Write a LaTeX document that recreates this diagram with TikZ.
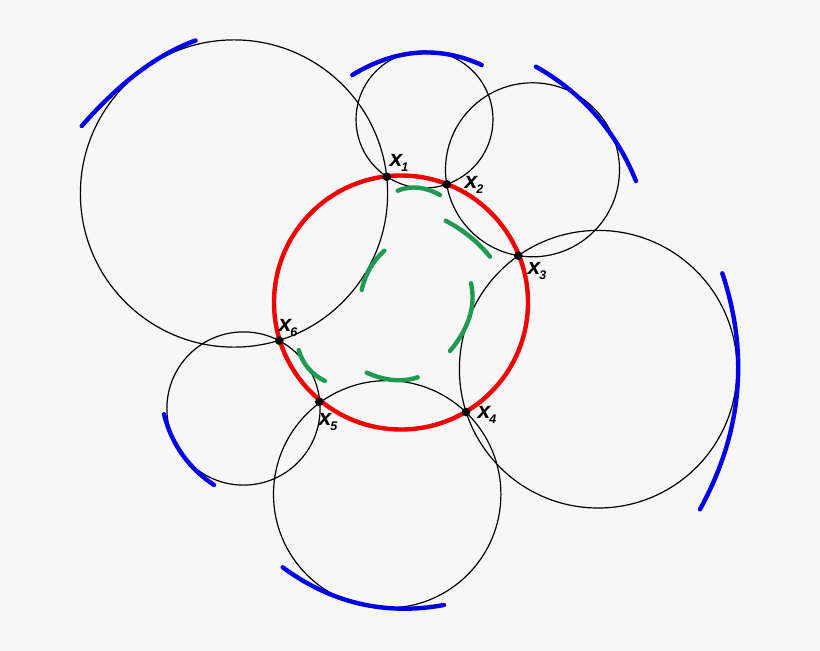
\documentclass[tikz,border=0pt]{standalone}
\usepackage{fontspec}
\setsansfont{Liberation Sans}
\usetikzlibrary{calc}
\definecolor{bgc}{RGB}{247,247,247}
\definecolor{redc}{RGB}{242,0,0}
\definecolor{bluec}{RGB}{0,0,235}
\definecolor{greenc}{RGB}{30,155,80}
\newcommand{\xlab}[1]{{\sffamily\bfseries\itshape\fontsize{23}{23}\selectfont x\kern-1pt\raisebox{-4.5pt}{\fontsize{12.5}{12.5}\selectfont #1}}}
\begin{document}
\begin{tikzpicture}[x=1pt,y=-1pt,
  blk/.style={draw=black,line width=1.2pt},
  redarc/.style={draw=redc,line width=4.4pt},
  bluearc/.style={draw=bluec,line width=4.4pt,line cap=round},
  greenarc/.style={draw=greenc,line width=4.4pt,line cap=round},
  dot/.style={circle,fill=black,inner sep=0pt,minimum size=8.6pt},
  lbl/.style={inner sep=0pt,text=black}]
\useasboundingbox (0,0) rectangle (820,651);
\fill[bgc] (0,0) rectangle (820,651);
% centres
\coordinate (c1) at (234,193.5);
\coordinate (c2) at (424.5,119.5);
\coordinate (c3) at (532.5,169.8);
\coordinate (c4) at (598.2,369.2);
\coordinate (c5) at (387.2,494.3);
\coordinate (c6) at (243.5,408.5);
\coordinate (cr) at (401,302.5);
% points
\coordinate (p1) at (386.7,176.7);
\coordinate (p2) at (446.7,184.3);
\coordinate (p3) at (518.3,255.7);
\coordinate (p4) at (466,412);
\coordinate (p5) at (319.3,401.7);
\coordinate (p6) at (279.3,340.7);
% black circles
\draw[blk] let \p1=($(p1)-(c1)$), \n1={veclen(\x1,\y1)} in (c1) circle[radius=\n1];
\draw[blk] let \p1=($(p1)-(c2)$), \n1={veclen(\x1,\y1)} in (c2) circle[radius=\n1];
\draw[blk] let \p1=($(p2)-(c3)$), \n1={veclen(\x1,\y1)} in (c3) circle[radius=\n1];
\draw[blk] let \p1=($(p3)-(c4)$), \n1={veclen(\x1,\y1)} in (c4) circle[radius=\n1];
\draw[blk] let \p1=($(p4)-(c5)$), \n1={veclen(\x1,\y1)} in (c5) circle[radius=\n1];
\draw[blk] let \p1=($(p6)-(c6)$), \n1={veclen(\x1,\y1)} in (c6) circle[radius=\n1];
% red circle
\draw[redarc] (cr) circle[radius=127pt];
% blue arcs
\draw[bluearc] (81.7,126) .. controls (119.5,82.77) and (157.43,54.27) .. (195.5,40.5);
\draw[bluearc] (352.3,75) .. controls (395.43,48.73) and (438.57,45.4) .. (481.7,65);
\draw[bluearc] (536,66.7) .. controls (582.53,93.13) and (615.87,131.23) .. (636,181);
\draw[bluearc] (722.3,273.3) .. controls (749.33,354.23) and (741.9,432.9) .. (700,509.3);
\draw[bluearc] (282.7,567.3) .. controls (331.2,603.1) and (385,615.7) .. (444,605);
\draw[bluearc] (164,414.3) .. controls (171.73,444.33) and (188.4,467.9) .. (214,485);
% green arcs
\draw[greenarc] (397.7,190.7) .. controls (411.07,185.27) and (425.17,186.7) .. (440,195);
\draw[greenarc] (445.7,220.7) .. controls (463.33,230.03) and (478.1,242.03) .. (490,256.7);
\draw[greenarc] (471,283.3) .. controls (476,305.67) and (469,328.23) .. (450,351);
\draw[greenarc] (366.7,372.7) .. controls (385.17,380.9) and (402.17,382.43) .. (417.7,377.3);
\draw[greenarc] (298.7,350) .. controls (302.73,364.07) and (311.5,374.4) .. (325,381);
\draw[greenarc] (384.3,250.7) .. controls (372.77,261.07) and (365.23,274.17) .. (361.7,290);
% dots
\node[dot] (x1) at (p1) {};
\node[dot] (x2) at (p2) {};
\node[dot] (x3) at (p3) {};
\node[dot] (x4) at (p4) {};
\node[dot] (x5) at (p5) {};
\node[dot] (x6) at (p6) {};
% labels
\node[lbl] (t1) at (399,163) {\xlab{1}};
\node[lbl] (t2) at (474,185) {\xlab{2}};
\node[lbl] (t3) at (537,271) {\xlab{3}};
\node[lbl] (t4) at (487,415) {\xlab{4}};
\node[lbl] (t5) at (328,422) {\xlab{5}};
\node[lbl] (t6) at (288,328) {\xlab{6}};
\end{tikzpicture}
\end{document}
